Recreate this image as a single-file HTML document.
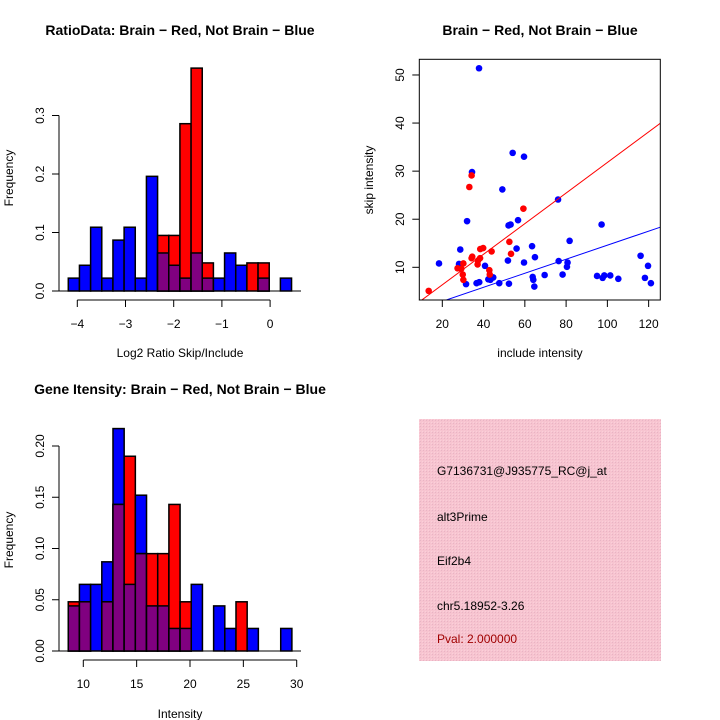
<!DOCTYPE html>
<html><head><meta charset="utf-8">
<style>
html,body{margin:0;padding:0;background:#fff;}
svg{display:block;font-family:"Liberation Sans",Arial,sans-serif;}
.t{font-weight:bold;font-size:14px;}
.tk{font-size:12px;}
</style></head>
<body>
<svg id="s" width="720" height="720" viewBox="0 0 720 720">
<defs>
<pattern id="hatch" width="3" height="3" patternUnits="userSpaceOnUse">
<rect width="3" height="3" fill="#f7c4d0"/>
<rect x="0" y="0" width="1" height="1" fill="#e8b4c4"/>
<rect x="2" y="2" width="1" height="1" fill="#fad0da"/>
</pattern>
</defs>
<g id="g1"></g>
<g id="g2"></g>
<g id="g3"></g>
<g>
<rect x="419" y="419" width="242" height="242" fill="url(#hatch)"/>
<text x="437" y="475" font-size="12">G7136731@J935775_RC@j_at</text>
<text x="437" y="521" font-size="12">alt3Prime</text>
<text x="437" y="565" font-size="12">Eif2b4</text>
<text x="437" y="610" font-size="12">chr5.18952-3.26</text>
<text x="437" y="643" font-size="12" fill="#a00000">Pval: 2.000000</text>
</g>
</svg>
<script>
// ---- Ratio histogram data ----
const ratioBinStart = -4.187;
const ratioBinWidth = 0.2316;
const ratioBlue = [0.022,0.044,0.109,0.022,0.087,0.109,0.022,0.196,0.065,0.044,0.022,0.065,0.022,0.022,0.065,0.044,0,0.022,0,0.022];
const ratioRed  = [0,0,0,0,0,0,0,0,0.095,0.095,0.286,0.381,0.048,0,0,0,0.048,0.048,0,0];
const ratioXTicks = [-4,-3,-2,-1,0];
const ratioYTicks = [0,0.1,0.2,0.3];
const ratioYLabels = ["0.0","0.1","0.2","0.3"];
// ---- Gene intensity histogram data ----
const geneBinStart = 8.59;
const geneBinWidth = 1.048;
const geneBlue = [0.044,0.065,0.065,0.087,0.217,0.065,0.152,0.044,0.044,0.022,0.022,0.065,0,0.044,0.022,0,0.022,0,0,0.022];
const geneRed  = [0.048,0.048,0,0.048,0.143,0.190,0.095,0.095,0.095,0.143,0.048,0,0,0,0,0.048,0,0,0,0];
const geneXTicks = [10,15,20,25,30];
const geneYTicks = [0,0.05,0.10,0.15,0.20];
const geneYLabels = ["0.00","0.05","0.10","0.15","0.20"];
// ---- Scatter data ----
const blueInclude = [37.8,54.1,59.6,34.4,49.1,76.1,32.0,56.7,52.1,53.1,97.2,28.7,56.0,63.5,81.7,18.4,28.1,40.7,51.8,59.6,64.9,76.4,80.7,80.4,116.1,119.7,31.5,36.6,37.9,42.3,43.3,44.7,47.6,52.3,63.8,64.1,64.6,69.6,78.3,95.0,97.7,98.5,101.4,105.3,118.2,121.1];
const blueSkip    = [51.4,33.8,33.0,29.8,26.2,24.1,19.6,19.8,18.7,18.9,18.9,13.7,13.9,14.4,15.5,10.8,10.7,10.3,11.4,11.0,12.1,11.3,11.0,10.1,12.4,10.3,6.5,6.7,6.9,7.5,7.4,7.9,6.7,6.6,8.0,7.4,6.0,8.4,8.5,8.2,7.8,8.3,8.3,7.6,7.8,6.7];
const redInclude  = [13.4,34.2,33.1,59.3,52.5,53.3,34.5,34.2,38.4,39.8,43.9,38.3,37.3,37.1,30.2,27.4,42.8,43.0,29.9,30.2,29.2];
const redSkip     = [5.1,29.1,26.7,22.2,15.3,12.8,12.2,11.9,13.8,14.0,13.3,11.9,11.4,10.6,10.8,9.8,9.4,8.5,8.5,7.4,9.7];
const redSlope = 0.318;
const blueSlope = 0.146;
const scXTicks = [20,40,60,80,100,120];
const scYTicks = [10,20,30,40,50];

const NS = "http://www.w3.org/2000/svg";
function mk(parent, tag, attrs, text){
  const e = document.createElementNS(NS, tag);
  for (const k in attrs) e.setAttribute(k, attrs[k]);
  if (text !== undefined) e.textContent = text;
  parent.appendChild(e);
  return e;
}

function histogram(g, o){
  const sx = v => o.x0px + (v - o.x0) * o.pxPerX;
  const sy = v => o.base - v * o.pxPerY;
  mk(g,'line',{x1:52,x2:301,y1:o.base,y2:o.base,stroke:'#000'});
  for (let i=0;i<o.blue.length;i++){
    const l = sx(o.binStart + i*o.binWidth), r = sx(o.binStart + (i+1)*o.binWidth);
    const b = o.blue[i], rd = o.red[i], m = Math.min(b, rd);
    if (b>0){
      const e = mk(g,'rect',{x:l,y:sy(b),width:r-l,height:sy(0)-sy(b),fill:'#0000ff',stroke:'#000','stroke-width':1.5});
      
      
    }
    if (rd>0){
      const e = mk(g,'rect',{x:l,y:sy(rd),width:r-l,height:sy(0)-sy(rd),fill:'#ff0000',stroke:'#000','stroke-width':1.5});
      
      
    }
    if (m>0){
      const e = mk(g,'rect',{x:l,y:sy(m),width:r-l,height:sy(0)-sy(m),fill:'#800080',stroke:'#000','stroke-width':1.5});
      
      
    }
  }
  // x axis
  const ax = o.base + 9;
  mk(g,'line',{x1:sx(o.xTicks[0]),x2:sx(o.xTicks[o.xTicks.length-1]),y1:ax,y2:ax,stroke:'#000'});
  o.xTicks.forEach(t=>{
    mk(g,'line',{x1:sx(t),x2:sx(t),y1:ax,y2:ax+7,stroke:'#000'});
    const e = mk(g,'text',{x:sx(t),y:ax+28,'text-anchor':'middle','class':'tk'}, t<0?('\u2212'+(-t)):String(t));
    
    
  });
  // y axis
  mk(g,'line',{x1:59,x2:59,y1:sy(o.yTicks[0]),y2:sy(o.yTicks[o.yTicks.length-1]),stroke:'#000'});
  o.yTicks.forEach((t,i)=>{
    mk(g,'line',{x1:52,x2:59,y1:sy(t),y2:sy(t),stroke:'#000'});
    const e = mk(g,'text',{x:0,y:0,'text-anchor':'middle','class':'tk',transform:`translate(44,${sy(t)}) rotate(-90)`}, o.yLabels[i]);
    
    
  });
  const yt = mk(g,'text',{x:0,y:0,'text-anchor':'middle','class':'tk',transform:`translate(13,${o.ymid}) rotate(-90)`}, 'Frequency');
  
  
  const xt = mk(g,'text',{x:180,y:o.xtitleY,'text-anchor':'middle','class':'tk'}, o.xtitle);
  
  
  const tt = mk(g,'text',{x:180,y:o.titleY,'text-anchor':'middle','class':'t'}, o.title);
  
  
}

histogram(document.getElementById('g1'),{
  blue:ratioBlue, red:ratioRed, binStart:ratioBinStart, binWidth:ratioBinWidth,
  x0:-4, x0px:77.3, pxPerX:48.2, base:291, pxPerY:585,
  xTicks:ratioXTicks, yTicks:ratioYTicks, yLabels:ratioYLabels,
  ymid:178, xtitle:'Log2 Ratio Skip/Include', xtitleY:357,
  title:'RatioData: Brain \u2212 Red, Not Brain \u2212 Blue', titleY:35
});
histogram(document.getElementById('g3'),{
  blue:geneBlue, red:geneRed, binStart:geneBinStart, binWidth:geneBinWidth,
  x0:10, x0px:83.3, pxPerX:10.67, base:651, pxPerY:1025,
  xTicks:geneXTicks, yTicks:geneYTicks, yLabels:geneYLabels,
  ymid:540, xtitle:'Intensity', xtitleY:718,
  title:'Gene Itensity: Brain \u2212 Red, Not Brain \u2212 Blue', titleY:394
});

// scatter
(function(){
  const g = document.getElementById('g2');
  const L=419.3,R=660.3,T=59.3,B=300;
  const xmin=8.85,xmax=125.65,ymin=3.2,ymax=53.26;
  const sx = v => L + (v-xmin)/(xmax-xmin)*(R-L);
  const sy = v => B - (v-ymin)/(ymax-ymin)*(B-T);
  const cp = mk(g,'clipPath',{id:'scClip'});
  mk(cp,'rect',{x:L,y:T,width:R-L,height:B-T});
  const pts = mk(g,'g',{'clip-path':'url(#scClip)'});
  function line(slope,color,name){
    const e = mk(pts,'line',{x1:sx(xmin),y1:sy(slope*xmin),x2:sx(xmax),y2:sy(slope*xmax),stroke:color,'stroke-width':1});
    
    
  }
  blueInclude.forEach((x,i)=>{
    const e = mk(pts,'circle',{cx:sx(x),cy:sy(blueSkip[i]),r:3.3,fill:'#0000ff'});
    
    
  });
  redInclude.forEach((x,i)=>{
    const e = mk(pts,'circle',{cx:sx(x),cy:sy(redSkip[i]),r:3.3,fill:'#ff0000'});
    
    
  });
  line(redSlope,'#ff0000','red-fit-line');
  line(blueSlope,'#0000ff','blue-fit-line');
  mk(g,'rect',{x:L,y:T,width:R-L,height:B-T,fill:'none',stroke:'#000'});
  scXTicks.forEach(t=>{
    mk(g,'line',{x1:sx(t),x2:sx(t),y1:B,y2:B+7,stroke:'#000'});
    const e = mk(g,'text',{x:sx(t),y:B+28,'text-anchor':'middle','class':'tk'},String(t));
    
    
  });
  scYTicks.forEach(t=>{
    mk(g,'line',{x1:L-7,x2:L,y1:sy(t),y2:sy(t),stroke:'#000'});
    const e = mk(g,'text',{x:0,y:0,'text-anchor':'middle','class':'tk',transform:`translate(404,${sy(t)}) rotate(-90)`},String(t));
    
    
  });
  const yt = mk(g,'text',{x:0,y:0,'text-anchor':'middle','class':'tk',transform:`translate(373,180) rotate(-90)`},'skip intensity');
  
  
  const xt = mk(g,'text',{x:540,y:357,'text-anchor':'middle','class':'tk'},'include intensity');
  
  
  const tt = mk(g,'text',{x:540,y:35,'text-anchor':'middle','class':'t'},'Brain \u2212 Red, Not Brain \u2212 Blue');
  
  
})();
</script>
</body></html>
